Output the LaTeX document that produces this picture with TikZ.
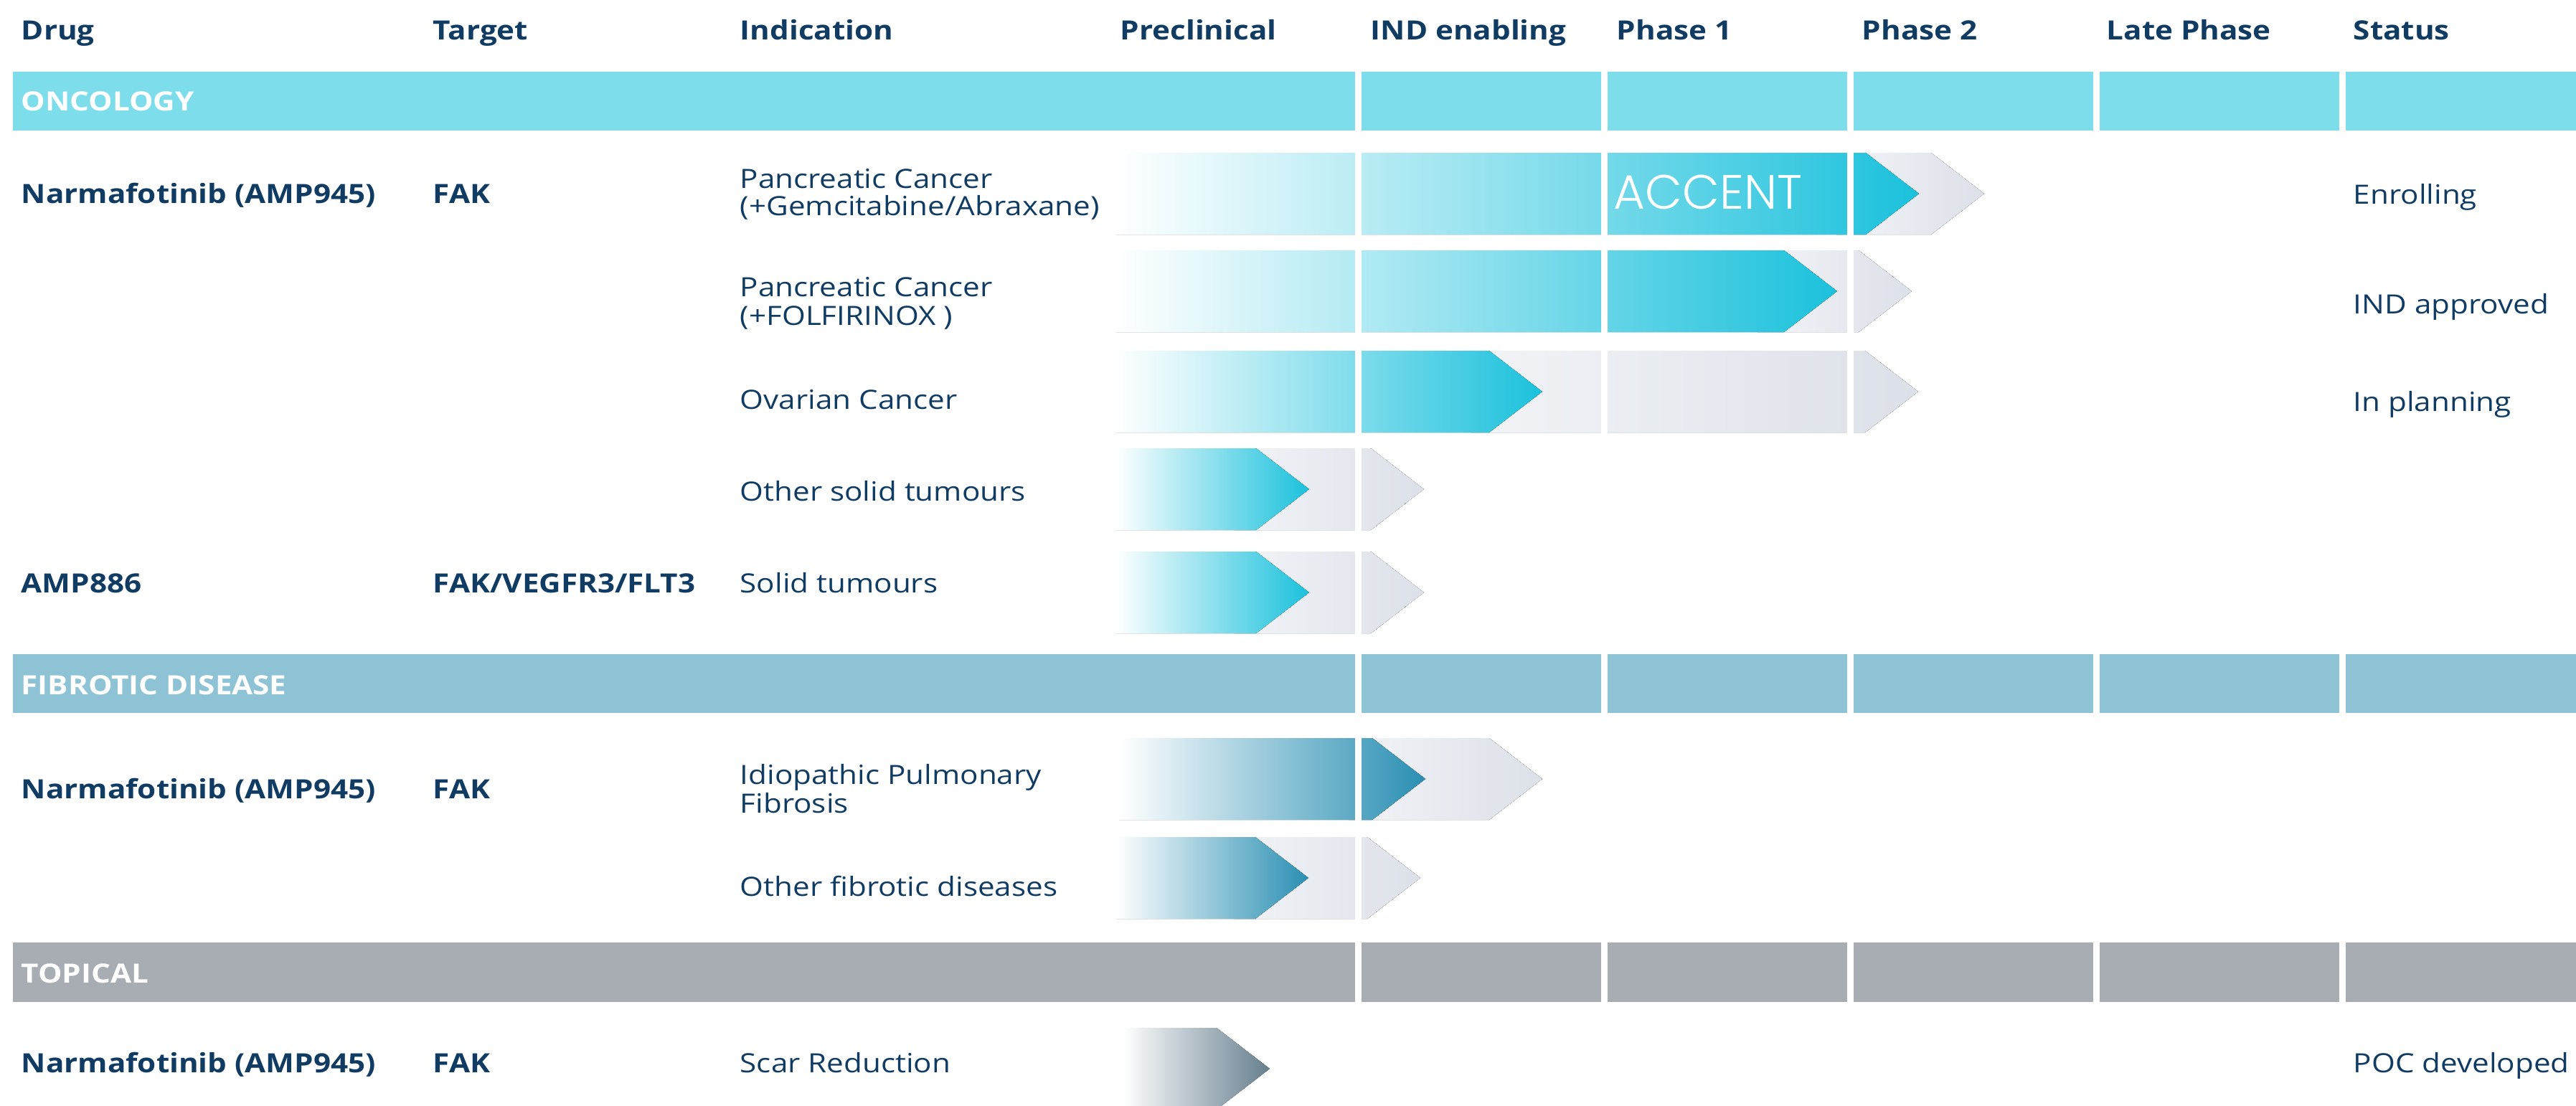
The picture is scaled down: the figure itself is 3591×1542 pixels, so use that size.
\documentclass[tikz,border=0pt]{standalone}
\usepackage{fontspec}
\setmainfont{Open Sans}[FakeStretch=1.14]
\IfFontExistsTF{Poppins Light}{\newfontfamily\accentfont{Poppins Light}}{\newfontfamily\accentfont{Poppins}}
\definecolor{navy}{HTML}{103B63}
\definecolor{oncobar}{HTML}{7EDDEB}
\definecolor{fibbar}{HTML}{8EC3D6}
\definecolor{topbar}{HTML}{A8ADB4}
\definecolor{cyanend}{HTML}{1BC1DC}
\definecolor{tealmid}{HTML}{95D6E5}
\definecolor{tealend}{HTML}{2A8FB3}
\definecolor{ghostL}{HTML}{F2F4F7}
\definecolor{ghostR}{HTML}{DCE0E8}
\definecolor{scarmid}{HTML}{8DD2DC}
\definecolor{scarend}{HTML}{667F8E}
\newcommand\arrowshape[4]{(#1,#3) -- ({#2-74},#3) -- (#2,{(#3+#4)/2}) -- ({#2-74},#4) -- (#1,#4) -- cycle}
\tikzset{
  hdr/.style={anchor=base west, inner sep=0pt, font=\bfseries, text=navy},
  txt/.style={anchor=base west, inner sep=0pt, text=navy},
  boldtxt/.style={txt, font=\bfseries},
  cat/.style={anchor=base west, inner sep=0pt, font=\bfseries, text=white},
  ghost/.style={left color=ghostL, right color=ghostR},
  prog/.style={left color=white, right color=cyanend},
  fibprog/.style={left color=white, middle color=tealmid, right color=tealend},
  scarprog/.style={left color=white, middle color=scarmid, right color=scarend},
}
\begin{document}
\fontsize{9.25pt}{10pt}\selectfont
\begin{tikzpicture}[x=0.25pt,y=-0.25pt]
\useasboundingbox (0,0) rectangle (3591,1542);
\clip (0,0) rectangle (3591,1542);
% category bars
\fill[oncobar] (18,100) rectangle (3591,182);
\fill[fibbar] (18,912) rectangle (3591,994);
\fill[topbar] (18,1314) rectangle (3591,1397);
% ghost arrows
\fill[ghost] \arrowshape{2560}{2766}{213}{327};
\fill[ghost] \arrowshape{2450}{2665}{349}{463};
\fill[ghost] \arrowshape{2050}{2674}{489}{603};
\fill[ghost] \arrowshape{1720}{1985}{625}{739};
\fill[ghost] \arrowshape{1720}{1985}{769}{883};
\fill[ghost] \arrowshape{1880}{2150}{1029}{1143};
\fill[ghost] \arrowshape{1720}{1980}{1167}{1281};
% progress arrows
\fill[prog] \arrowshape{1556}{2675}{213}{327};
\fill[prog] \arrowshape{1556}{2561}{349}{463};
\fill[prog] \arrowshape{1556}{2150}{489}{603};
\fill[prog] \arrowshape{1556}{1825}{625}{739};
\fill[prog] \arrowshape{1556}{1825}{769}{883};
\fill[fibprog] \arrowshape{1560}{1987}{1029}{1143};
\fill[fibprog] \arrowshape{1556}{1824}{1167}{1281};
\fill[scarprog] \arrowshape{1565}{1770}{1433}{1547};
% column gaps
\foreach \g in {1889,2232,2575,2918,3261}
  \fill[white] (\g,95) rectangle (\g+9,1542);
% headers
\node[hdr] (hDrug) at (29,55) {Drug};
\node[hdr] (hTarget) at (603,55) {Target};
\node[hdr] (hInd) at (1031,55) {Indication};
\node[hdr] (hPre) at (1561,55) {Preclinical};
\node[hdr] (hIND) at (1910,55) {IND enabling};
\node[hdr] (hP1) at (2253,55) {Phase 1};
\node[hdr] (hP2) at (2595,55) {Phase 2};
\node[hdr] (hLate) at (2936,55) {Late Phase};
\node[hdr] (hStatus) at (3280,55) {Status};
% categories
\node[cat] (cOnc) at (29,154) {ONCOLOGY};
\node[cat] (cFib) at (29,968) {FIBROTIC DISEASE};
\node[cat] (cTop) at (29,1370) {TOPICAL};
% row 1
\node[boldtxt] (d1) at (29,283) {Narmafotinib (AMP945)};
\node[boldtxt] (t1) at (603,283) {FAK};
\node[txt] (i1a) at (1031,262) {Pancreatic Cancer};
\node[txt] (i1b) at (1031,300) {(+Gemcitabine/Abraxane)};
\node[txt] (s1) at (3280,284) {Enrolling};
\node[anchor=base west, inner sep=0pt, text=white, font=\accentfont\fontsize{16.8pt}{18pt}\selectfont] (acc) at (2249,291) {ACCENT};
% row 2
\node[txt] (i2a) at (1031,413) {Pancreatic Cancer};
\node[txt] (i2b) at (1031,453) {(+FOLFIRINOX )};
\node[txt] (s2) at (3280,437) {IND approved};
% row 3
\node[txt] (i3) at (1031,570) {Ovarian Cancer};
\node[txt] (s3) at (3280,573) {In planning};
% row 4
\node[txt] (i4) at (1031,698) {Other solid tumours};
% row 5
\node[boldtxt] (d5) at (29,826) {AMP886};
\node[boldtxt] (t5) at (603,826) {FAK/VEGFR3/FLT3};
\node[txt] (i5) at (1031,826) {Solid tumours};
% row 6
\node[boldtxt] (d6) at (29,1113) {Narmafotinib (AMP945)};
\node[boldtxt] (t6) at (603,1113) {FAK};
\node[txt] (i6a) at (1031,1093) {Idiopathic Pulmonary};
\node[txt] (i6b) at (1031,1133) {Fibrosis};
% row 7
\node[txt] (i7) at (1031,1249) {Other fibrotic diseases};
% row 8
\node[boldtxt] (d8) at (29,1495) {Narmafotinib (AMP945)};
\node[boldtxt] (t8) at (603,1495) {FAK};
\node[txt] (i8) at (1031,1495) {Scar Reduction};
\node[txt] (s8) at (3280,1495) {POC developed};
\end{tikzpicture}
\end{document}
